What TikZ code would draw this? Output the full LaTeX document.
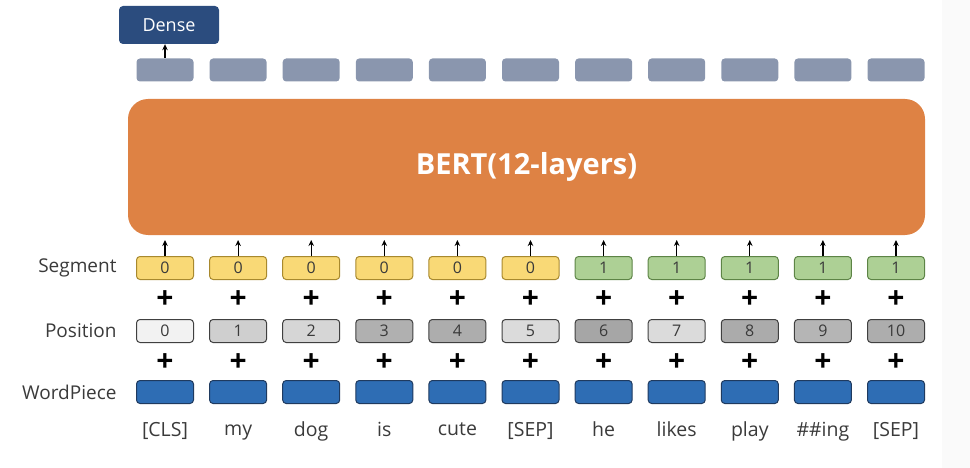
\documentclass[tikz,border=0pt]{standalone}
\usepackage{fontspec}
\setmainfont{Open Sans}
\usetikzlibrary{arrows.meta}

\definecolor{outgray}{HTML}{8A96AE}
\definecolor{densecol}{HTML}{2B4C7E}
\definecolor{bertcol}{HTML}{DE8244}
\definecolor{segA}{HTML}{F9D976}
\definecolor{segAline}{HTML}{A8892E}
\definecolor{segB}{HTML}{ADD095}
\definecolor{segBline}{HTML}{5D8446}
\definecolor{wpcol}{HTML}{2E6DB4}
\definecolor{wpline}{HTML}{1F3A5F}
\definecolor{textgray}{HTML}{3A3A3A}

\tikzset{
    tokbox/.style={rectangle, rounded corners=3.5pt, minimum width=57pt,
        minimum height=23pt, inner sep=0pt, line width=1pt},
    outbox/.style={tokbox, fill=outgray},
    segbox/.style={tokbox, draw=#1line, fill=#1, text=textgray,
        font=\fontsize{16}{16}\selectfont},
    posbox/.style={tokbox, draw=black!75, fill=#1, text=textgray,
        font=\fontsize{16}{16}\selectfont},
    wpbox/.style={tokbox, draw=wpline, fill=wpcol},
    rowlabel/.style={anchor=east, text=textgray, font=\fontsize{19}{19}\selectfont},
    plus/.style={font=\fontsize{30}{30}\selectfont\bfseries},
    uparrow/.style={-{Stealth[length=6pt,width=5.5pt]}, line width=1.2pt}
}

\begin{document}
\begin{tikzpicture}[x=1pt, y=-1pt]
    \useasboundingbox (0,0) rectangle (970,468);
    % faint strip at the right edge
    \fill[black!2] (942,0) rectangle (970,468);

    % big encoder block
    \node[rectangle, rounded corners=20pt, fill=bertcol, minimum width=797pt,
        minimum height=136pt, text=white,
        font=\fontsize{29}{29}\selectfont\bfseries] (bert) at (526.5,167) {BERT(12-layers)};

    % row labels
    \node[rowlabel] (lseg) at (120,268) {Segment};
    \node[rowlabel] (lpos) at (120,331) {Position};
    \node[rowlabel] (lwp) at (120,392) {WordPiece};

    % columns: segment id / position shade / word
    \foreach \w/\s/\p [count=\i from 0] in {
        {[CLS]}/segA/black!5, my/segA/black!19, dog/segA/black!16,
        is/segA/black!31, cute/segA/black!32, {[SEP]}/segA/black!14,
        he/segB/black!35, likes/segB/black!14, play/segB/black!33,
        {\#\#ing}/segB/black!29, {[SEP]}/segB/black!32} {
        \pgfmathsetmacro{\cx}{165+73.1*\i}
        \pgfmathtruncatemacro{\sid}{\i>5 ? 1 : 0}
        \node[outbox] (out\i) at (\cx,70) {};
        \node[segbox=\s] (seg\i) at (\cx,268) {\sid};
        \node[plus] (pa\i) at (\cx,300) {+};
        \node[posbox=\p] (pos\i) at (\cx,331) {\i};
        \node[plus] (pb\i) at (\cx,363) {+};
        \node[wpbox] (wp\i) at (\cx,392) {};
        \node[text=textgray, font=\fontsize{19.5}{19.5}\selectfont] (word\i)
            at (\cx,432) {\strut\w};
        % arrow into BERT
        \draw[uparrow] (seg\i.north) -- ++(0,-16);
    }

    % classifier head
    \node[rectangle, rounded corners=4pt, fill=densecol, text=white,
        minimum width=100pt, minimum height=38pt,
        font=\fontsize{18}{18}\selectfont] (dense) at (169,25) {Dense};
    \draw[uparrow] (out0.north) -- (out0.north |- dense.south);
\end{tikzpicture}
\end{document}
